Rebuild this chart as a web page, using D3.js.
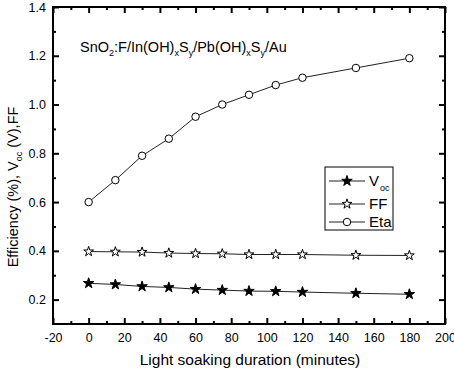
<!DOCTYPE html>
<html>
<head>
<meta charset="utf-8">
<script src="https://cdn.jsdelivr.net/npm/d3@7"></script>
<style>
  body { margin: 0; background: #fff; }
  text { font-family: "Liberation Sans", Arial, sans-serif; fill: #000; }
</style>
</head>
<body>
<svg id="drawing_region"></svg>
<script>
// light soaking duration (minutes)
const minutes = [0, 15, 30, 45, 60, 75, 90, 105, 120, 150, 180];
const voc = [0.267, 0.262, 0.254, 0.250, 0.243, 0.239, 0.235, 0.234, 0.231, 0.226, 0.222];
const ff  = [0.397, 0.396, 0.395, 0.391, 0.389, 0.388, 0.385, 0.385, 0.385, 0.382, 0.381];
const eta = [0.60, 0.69, 0.79, 0.86, 0.95, 1.00, 1.04, 1.08, 1.11, 1.15, 1.19];
const xTicks = [-20, 0, 20, 40, 60, 80, 100, 120, 140, 160, 180, 200];
const yTicks = [0.2, 0.4, 0.6, 0.8, 1.0, 1.2, 1.4];

const config = {
  width: 454, height: 368,
  margin: {top: 7, right: 9, bottom: 44, left: 53}
};

const svg = d3.select('#drawing_region')
  .attr('width', config.width)
  .attr('height', config.height);

const inner_width = config.width - config.margin.left - config.margin.right;
const inner_height = config.height - config.margin.top - config.margin.bottom;

const chart = svg.append('g')
  .attr('transform', `translate(${config.margin.left}, ${config.margin.top})`);

const xscale = d3.scaleLinear().domain([-20, 200]).range([0, inner_width]);
const yscale = d3.scaleLinear().domain([0.1, 1.4]).range([inner_height, 0]);

// minor ticks
const xMinor = d3.range(-10, 200, 20);
const yMinor = d3.range(0.1, 1.41, 0.2).filter(v => v > 0.15);

function tickGroup(axis, transform) {
  const g = chart.append('g').attr('transform', transform).call(axis);
  g.select('.domain').remove();
  g.selectAll('line').attr('stroke', '#000').attr('stroke-width', 2);
  return g;
}

// bottom axis with labels
const xaxis = d3.axisBottom(xscale).tickValues(xTicks).tickSizeInner(-6).tickSizeOuter(0)
  .tickPadding(8).tickFormat(d => String(d));
const xg = tickGroup(xaxis, `translate(0, ${inner_height})`);
xg.selectAll('text').attr('font-size', 12.5).attr('dy', '0.71em').attr('y', 9);
tickGroup(d3.axisBottom(xscale).tickValues(xMinor).tickSizeInner(-3).tickSizeOuter(0).tickFormat(''),
  `translate(0, ${inner_height})`);
// top mirror
tickGroup(d3.axisTop(xscale).tickValues(xTicks).tickSizeInner(-6).tickSizeOuter(0).tickFormat(''), 'translate(0,0)');
tickGroup(d3.axisTop(xscale).tickValues(xMinor).tickSizeInner(-3).tickSizeOuter(0).tickFormat(''), 'translate(0,0)');

// left axis with labels
const yaxis = d3.axisLeft(yscale).tickValues(yTicks).tickSizeInner(-6).tickSizeOuter(0)
  .tickPadding(8).tickFormat(d3.format('.1f'));
const yg = tickGroup(yaxis, 'translate(0,0)');
yg.selectAll('text').attr('font-size', 12.5).attr('x', -7);
tickGroup(d3.axisLeft(yscale).tickValues(yMinor).tickSizeInner(-3).tickSizeOuter(0).tickFormat(''), 'translate(0,0)');
// right mirror
tickGroup(d3.axisRight(yscale).tickValues(yTicks).tickSizeInner(-6).tickSizeOuter(0).tickFormat(''), `translate(${inner_width},0)`);
tickGroup(d3.axisRight(yscale).tickValues(yMinor).tickSizeInner(-3).tickSizeOuter(0).tickFormat(''), `translate(${inner_width},0)`);

// frame
chart.append('rect')
  .attr('width', inner_width).attr('height', inner_height)
  .attr('fill', 'none').attr('stroke', '#000').attr('stroke-width', 2);

// series
const series = [
  {name: 'Voc', values: voc, symbol: d3.symbolStar, size: 34, fill: '#000'},
  {name: 'FF', values: ff, symbol: d3.symbolStar, size: 30, fill: '#fff'},
  {name: 'Eta', values: eta, symbol: d3.symbolCircle, size: 44, fill: '#fff'}
];

const line = d3.line().x(d => xscale(d[0])).y(d => yscale(d[1]));

series.forEach(s => {
  const pts = minutes.map((m, i) => [m, s.values[i]]);
  chart.append('path')
    .datum(pts)
    .attr('d', line)
    .attr('fill', 'none').attr('stroke', '#222').attr('stroke-width', 1);
  chart.selectAll(null)
    .data(pts)
    .enter()
    .append('path')
    .attr('transform', d => `translate(${xscale(d[0])}, ${yscale(d[1])})`)
    .attr('d', d3.symbol().type(s.symbol).size(s.size))
    .attr('fill', s.fill).attr('stroke', '#000').attr('stroke-width', 1);
});

// legend
const legend = svg.append('g').attr('transform', 'translate(325, 167)');
legend.append('rect').attr('width', 68).attr('height', 63)
  .attr('fill', '#fff').attr('stroke', '#000').attr('stroke-width', 1);
const rowsY = [14, 37, 55];
series.forEach((s, i) => {
  const row = legend.append('g').attr('transform', `translate(0, ${rowsY[i]})`);
  row.append('line').attr('x1', 4).attr('x2', 40).attr('stroke', '#222').attr('stroke-width', 1);
  row.append('path').attr('transform', 'translate(22,0)')
    .attr('d', d3.symbol().type(s.symbol).size(s.size))
    .attr('fill', s.fill).attr('stroke', '#000');
  const t = row.append('text').attr('x', 44).attr('y', 5).attr('font-size', 15);
  if (s.name === 'Voc') {
    t.append('tspan').text('V');
    t.append('tspan').attr('font-size', 9).attr('dy', 5).attr('dx', 1).text('oc');
  } else {
    t.text(s.name);
  }
});

// sample label
const title = svg.append('text').attr('x', 80).attr('y', 52).attr('font-size', 14.5);
const parts = [['SnO', 0], ['2', 1], [':F/In(OH)', 0], ['x', 1], ['S', 0], ['y', 1],
  ['/Pb(OH)', 0], ['x', 1], ['S', 0], ['y', 1], ['/Au', 0]];
let low = false;
parts.forEach(p => {
  const ts = title.append('tspan').text(p[0]);
  if (p[1] && !low) { ts.attr('font-size', 9).attr('dy', 4); low = true; }
  else if (!p[1] && low) { ts.attr('dy', -4); low = false; }
  else if (p[1]) { ts.attr('font-size', 9); }
});

// axis titles
svg.append('text')
  .attr('x', 250).attr('y', 365)
  .attr('text-anchor', 'middle').attr('font-size', 15.5)
  .text('Light soaking duration (minutes)');

const ylab = svg.append('text')
  .attr('transform', 'translate(18, 187) rotate(-90)')
  .attr('text-anchor', 'middle').attr('font-size', 14.5);
ylab.append('tspan').text('Efficiency (%), V');
ylab.append('tspan').attr('font-size', 9).attr('dy', 4).text('oc');
ylab.append('tspan').attr('dy', -4).text(' (V),FF');
</script>
</body>
</html>
